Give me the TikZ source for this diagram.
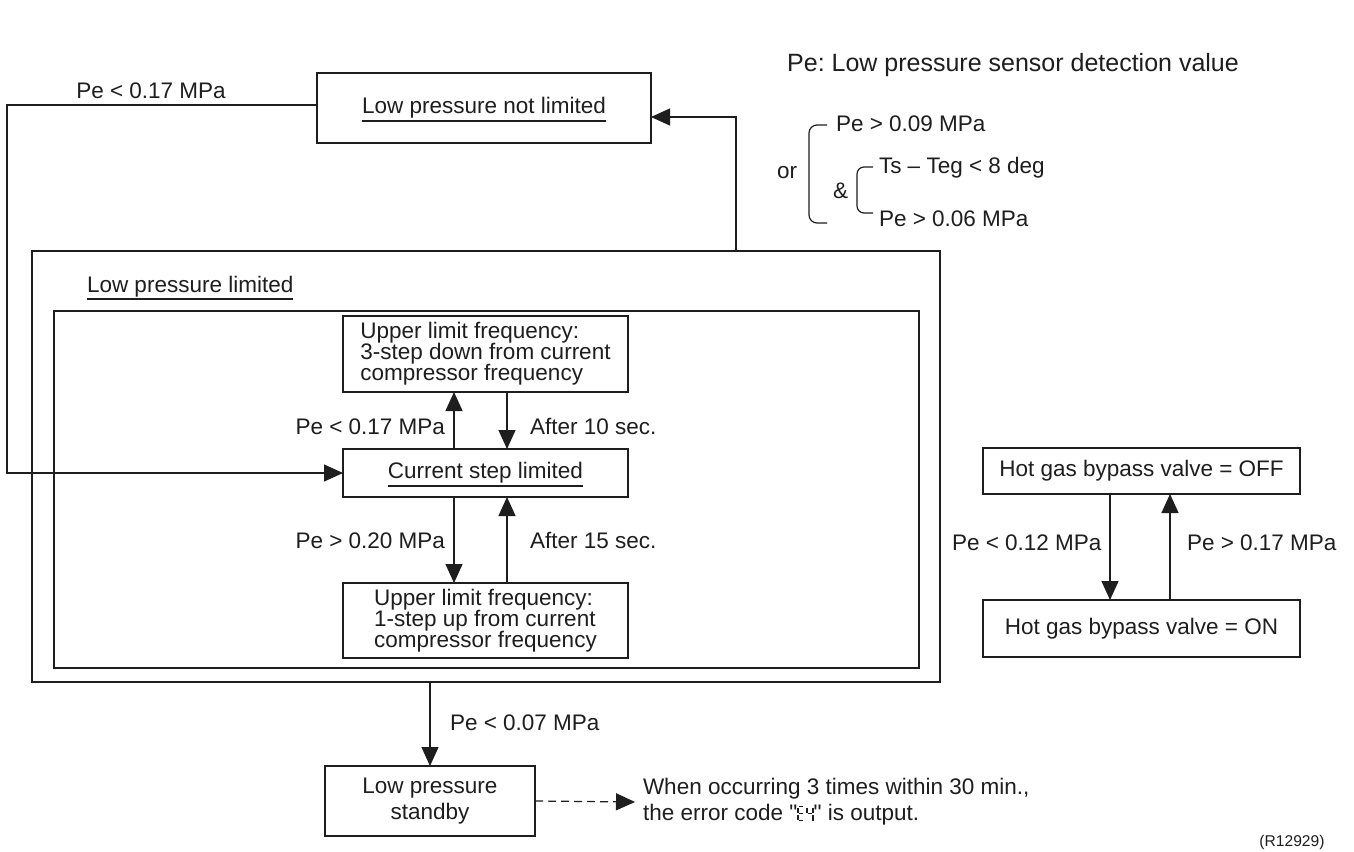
\documentclass[tikz,border=0pt]{standalone}
\usepackage{fontspec}
\setmainfont{Liberation Sans}
\usetikzlibrary{arrows.meta}
\frenchspacing
\definecolor{ink}{HTML}{1E1E1E}
% underlined box title with a heavier rule that does not change the box height
\newcommand\ulin[1]{\setbox0\hbox{#1}\rlap{\smash{\rule[-8pt]{\wd0}{1.8pt}}}\box0}
% seven-segment style error code glyph
\newcommand\segEfour{\tikz[baseline=0pt,x=1pt,y=1pt,line width=1.3pt,line cap=butt]{%
  \draw (0.8,14)--(5.5,14) (0,13.2)--(0,8.2) (0.8,7)--(5,7) (0,5.8)--(0,0.8) (0.8,0)--(5.5,0)
        (9,13.2)--(9,8.2) (9.8,7)--(14.2,7) (15,13.2)--(15,8.2) (15,5.8)--(15,0);}}

\begin{document}
\begin{tikzpicture}[x=1pt,y=-1pt,line width=1.2pt,color=ink,
  font=\fontsize{22.5}{21}\selectfont,
  box/.style={draw,rectangle,inner sep=0pt,outer sep=0pt,align=center},
  boxl/.style={box,align=left},
  lbl/.style={inner sep=0pt,outer sep=0pt},
  arr/.style={-{Triangle[length=19pt,width=17pt]}}]
\fill[white] (0,0) rectangle (1354,851);
\useasboundingbox (0,0) rectangle (1354,851);

% legend
\node[lbl,anchor=base,font=\fontsize{25}{28}\selectfont] (legend) at (1013,71) {Pe: Low pressure sensor detection value};

% states
\node[box,minimum width=334pt,minimum height=70pt] (lpnl) at (484,108) {\ulin{Low pressure not limited}};
\node[box,minimum width=908pt,minimum height=431pt] (outer) at (486,466.5) {};
\node[box,minimum width=865pt,minimum height=357pt] (inner) at (486.5,489.5) {};
\node[lbl,anchor=base west] (lplbl) at (87,292) {\ulin{Low pressure limited}};
\node[boxl,minimum width=285pt,minimum height=76pt] (up3) at (485.5,354)
  {Upper limit frequency:\\3-step down from current\\compressor frequency};
\node[box,minimum width=285pt,minimum height=48pt] (csl) at (485.5,473) {\ulin{Current step limited}};
\node[boxl,minimum width=285pt,minimum height=75pt] (up1) at (485.5,620.5)
  {Upper limit frequency:\\1-step up from current\\compressor frequency};
\node[box,minimum width=210pt,minimum height=70pt,font=\fontsize{22.5}{26}\selectfont] (lps) at (430,801)
  {Low pressure\\standby};
\node[box,minimum width=317pt,minimum height=46pt] (hgoff) at (1141.5,471) {Hot gas bypass valve = OFF};
\node[box,minimum width=317pt,minimum height=57pt] (hgon) at (1141.5,628.5) {Hot gas bypass valve = ON};
\node[anchor=west,inner xsep=8pt,inner ysep=0pt,outer sep=0pt,align=left,
  font=\fontsize{22.5}{26}\selectfont] (err) at (635,802)
  {When occurring 3 times within 30 min.,\\the error code \textquotedbl\segEfour\textquotedbl\ is output.};

% routing points
\coordinate (lftx) at (7,0);
\coordinate (cx) at (736,0);

% transitions
\draw[arr] ([yshift=3pt]lpnl.west) -- ([yshift=3pt]lpnl.west -| lftx) |- (csl.west);
\draw[arr] (outer.north -| cx) |- ([yshift=-9pt]lpnl.east);
\draw[arr] ([xshift=-31.5pt]csl.north) -- ([xshift=-31.5pt]up3.south);
\draw[arr] ([xshift=21.5pt]up3.south) -- ([xshift=21.5pt]csl.north);
\draw[arr] ([xshift=-31.5pt]csl.south) -- ([xshift=-31.5pt]up1.north);
\draw[arr] ([xshift=21.5pt]up1.north) -- ([xshift=21.5pt]csl.south);
\draw[arr] ([xshift=-31.5pt]hgoff.south) -- ([xshift=-31.5pt]hgon.north);
\draw[arr] ([xshift=28.5pt]hgon.north) -- ([xshift=28.5pt]hgoff.south);
\draw[arr] (outer.south -| lps.north) -- (lps.north);
\draw[arr,dash pattern=on 8pt off 5pt] (lps.east) -- (err.west);

% transition labels
\node[lbl,anchor=base] (l1) at (151,98) {Pe < 0.17 MPa};
\node[lbl,anchor=base east] (l2) at (445,434) {Pe < 0.17 MPa};
\node[lbl,anchor=base west] (l3) at (530,434) {After 10 sec.};
\node[lbl,anchor=base east] (l4) at (445,548) {Pe > 0.20 MPa};
\node[lbl,anchor=base west] (l5) at (530,548) {After 15 sec.};
\node[lbl,anchor=base west] (l6) at (952,550) {Pe < 0.12 MPa};
\node[lbl,anchor=base west] (l7) at (1187,550) {Pe > 0.17 MPa};
\node[lbl,anchor=base west] (l8) at (450,730) {Pe < 0.07 MPa};

% release condition with brackets
\node[lbl,anchor=base west] (orl) at (777,178) {or};
\node[lbl,anchor=base west] (c1) at (836,131) {Pe > 0.09 MPa};
\node[lbl,anchor=base west] (andl) at (833,198) {\&};
\node[lbl,anchor=base west] (c2) at (879,173) {Ts – Teg < 8 deg};
\node[lbl,anchor=base west] (c3) at (879,226) {Pe > 0.06 MPa};
\draw[rounded corners=8pt] (827,125) -- (809,125) -- (809,223) -- (827,223);
\draw[rounded corners=7pt] (873,167) -- (857,167) -- (857,213) -- (873,213);

% figure reference
\node[lbl,anchor=base,font=\fontsize{15.6}{18}\selectfont] (ref) at (1292,846) {(R12929)};
\end{tikzpicture}
\end{document}
